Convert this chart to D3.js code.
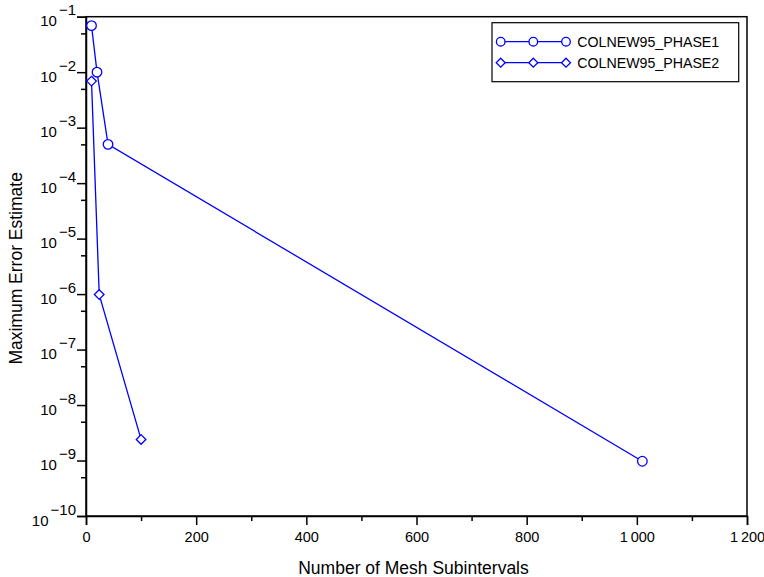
<!DOCTYPE html>
<html><head><meta charset="utf-8">
<script src="https://cdn.jsdelivr.net/npm/d3@7/dist/d3.min.js"></script>
<style>body{margin:0;background:#fff}svg{display:block}text{font-family:"Liberation Sans",Arial,sans-serif;fill:#000}</style>
</head><body>
<svg id="c" width="764" height="577"></svg>
<script>
const phase1X = [10, 20, 40, 1010];
const phase1Y = [6.9e-2, 1.0e-2, 5.0e-4, 9.7e-10];
const phase2X = [10, 24, 100];
const phase2Y = [6.9e-3, 9.8e-7, 2.4e-9];
const seriesNames = ["COLNEW95_PHASE1", "COLNEW95_PHASE2"];
const xTicks = [0, 200, 400, 600, 800, 1000, 1200];
const xMinorTicks = [100, 300, 500, 700, 900, 1100];
const yExponents = [-10, -9, -8, -7, -6, -5, -4, -3, -2, -1];
const xTitle = "Number of Mesh Subintervals";
const yTitle = "Maximum Error Estimate";

const svg = d3.select("#c");
const L = 86, R = 747, T = 16.7, B = 516;
const x = d3.scaleLinear().domain([0, 1200]).range([L, R]);
const y = d3.scaleLog().domain([1e-10, 1e-1]).range([B, T]);
const blue = "#0000ff";
const fmt = d3.formatLocale({decimal: ".", thousands: "\u2009", grouping: [3], currency: ["", ""]}).format(",d");

// frame
svg.append("rect").attr("x", L).attr("y", T).attr("width", R - L).attr("height", B - T)
  .attr("fill", "none").attr("stroke", "#000").attr("stroke-width", 1.5);

// x axis
const gx = svg.append("g").attr("transform", `translate(0,${B})`)
  .call(d3.axisBottom(x).tickValues(xTicks).tickSize(9).tickPadding(7).tickFormat(fmt));
gx.select(".domain").attr("stroke-width", 1.5);
gx.selectAll(".tick line").attr("stroke-width", 1.5);
gx.selectAll(".tick text").attr("font-size", 14.5).attr("font-family", '"Liberation Sans",Arial,sans-serif');
const gxm = svg.append("g").attr("transform", `translate(0,${B})`)
  .call(d3.axisBottom(x).tickValues(xMinorTicks).tickSize(5).tickFormat(""));
gxm.select(".domain").remove();
gxm.selectAll(".tick line").attr("stroke-width", 1.5);

// y axis
const majors = yExponents.map(e => Math.pow(10, e));
const minors = yExponents.slice(0, -1).map(e => 5 * Math.pow(10, e));
const gy = svg.append("g").attr("transform", `translate(${L},0)`)
  .call(d3.axisLeft(y).tickValues(majors).tickSize(9).tickFormat(""));
gy.select(".domain").attr("stroke-width", 1.5);
gy.selectAll(".tick line").attr("stroke-width", 1.5);
gy.selectAll(".tick").each(function(d, i) {
  const t = d3.select(this).append("text").attr("x", -10).attr("y", 9)
    .attr("text-anchor", "end").attr("font-size", 15);
  t.append("tspan").text("10");
  t.append("tspan").attr("dx", 2).attr("dy", -11).attr("font-size", 15).text("\u2212" + (-yExponents[i]));
});
const gym = svg.append("g").attr("transform", `translate(${L},0)`)
  .call(d3.axisLeft(y).tickValues(minors).tickSize(5).tickFormat(""));
gym.select(".domain").remove();
gym.selectAll(".tick line").attr("stroke-width", 1.5);

// titles
svg.append("text").attr("x", (L + R) / 2 - 3).attr("y", 574).attr("text-anchor", "middle")
  .attr("font-size", 17.5).text(xTitle);
svg.append("text").attr("transform", `translate(22,${(T + B) / 2 + 2}) rotate(-90)`)
  .attr("text-anchor", "middle").attr("font-size", 17.5).text(yTitle);

// series
const line = d3.line().x(d => x(d[0])).y(d => y(d[1]));
const s1 = phase1X.map((v, i) => [v, phase1Y[i]]);
const s2 = phase2X.map((v, i) => [v, phase2Y[i]]);
const diamond = (cx, cy, r) => `M${cx},${cy - r}L${cx + r},${cy}L${cx},${cy + r}L${cx - r},${cy}Z`;

svg.append("path").datum(s1).attr("d", line).attr("fill", "none").attr("stroke", blue).attr("stroke-width", 1.3);
svg.append("path").datum(s2).attr("d", line).attr("fill", "none").attr("stroke", blue).attr("stroke-width", 1.3);
svg.selectAll(".c1").data(s1).join("circle").attr("cx", d => x(d[0])).attr("cy", d => y(d[1])).attr("r", 4.8)
  .attr("fill", "#fff").attr("stroke", blue).attr("stroke-width", 1.3);
svg.selectAll(".d2").data(s2).join("path").attr("d", d => diamond(x(d[0]), y(d[1]), 4.8))
  .attr("fill", "#fff").attr("stroke", blue).attr("stroke-width", 1.3);

// legend
const lg = svg.append("g");
lg.append("rect").attr("x", 492).attr("y", 22.7).attr("width", 246.7).attr("height", 59)
  .attr("fill", "#fff").attr("stroke", "#000").attr("stroke-width", 1.2);
const rows = [41.7, 62.7];
const mx = [500.7, 533.3, 566];
seriesNames.forEach((name, i) => {
  const yy = rows[i];
  lg.append("line").attr("x1", mx[0]).attr("x2", mx[2]).attr("y1", yy).attr("y2", yy)
    .attr("stroke", blue).attr("stroke-width", 1.3);
  mx.forEach(m => {
    if (i === 0) lg.append("circle").attr("cx", m).attr("cy", yy).attr("r", 4.3)
      .attr("fill", "#fff").attr("stroke", blue).attr("stroke-width", 1.3);
    else lg.append("path").attr("d", diamond(m, yy, 4.5))
      .attr("fill", "#fff").attr("stroke", blue).attr("stroke-width", 1.3);
  });
  lg.append("text").attr("x", 577.3).attr("y", yy + 5).attr("font-size", 14.2).text(name);
});
</script>
</body></html>
